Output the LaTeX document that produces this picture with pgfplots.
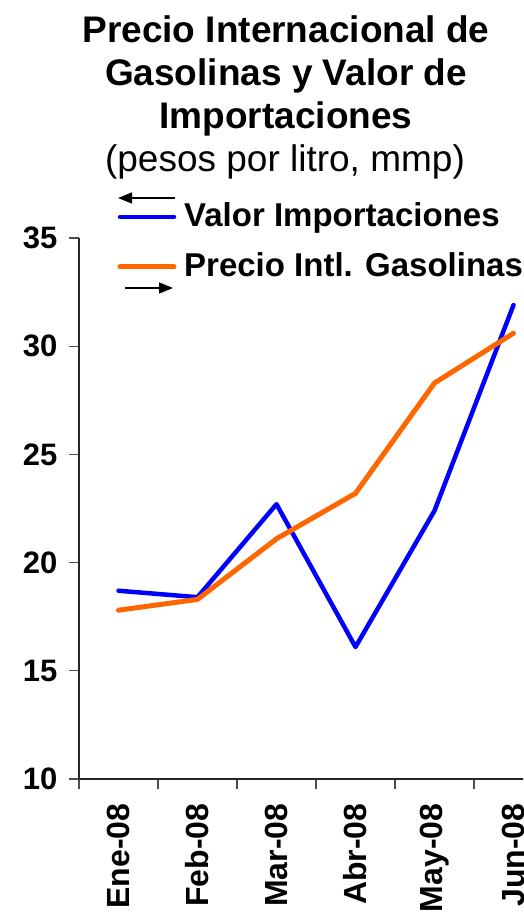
\documentclass[border=0pt]{standalone}
\usepackage{pgfplots}
\pgfplotsset{compat=1.18}
\usepackage{pgfplotstable}
\usepackage{fontspec}
\setmainfont{Liberation Sans}
\usetikzlibrary{arrows.meta}

\definecolor{valorblue}{RGB}{0,0,255}
\definecolor{precioorange}{RGB}{255,102,0}

% mes, valor importaciones, precio intl. gasolinas
\pgfplotstableread{
x valor precio
1 18.7 17.8
2 18.4 18.3
3 22.7 21.1
4 16.1 23.2
5 22.4 28.3
6 31.9 30.6
}\datos

\begin{document}
\begin{tikzpicture}[x=1pt,y=1pt]
\useasboundingbox (0,0) rectangle (523,916);
\clip (0,0) rectangle (523,916);

% titulo
\node[anchor=base, font=\fontsize{37}{40}\selectfont\bfseries] at (286,873) {Precio Internacional de};
\node[anchor=base, font=\fontsize{37}{40}\selectfont\bfseries] at (286,830) {Gasolinas y Valor de};
\node[anchor=base, font=\fontsize{37}{40}\selectfont\bfseries] at (286,787) {Importaciones};
\node[anchor=base, font=\fontsize{37}{40}\selectfont] at (285,744) {(pesos por litro, mmp)};

\begin{axis}[
  at={(79pt,137pt)}, anchor=south west,
  scale only axis, width=474pt, height=541pt,
  xmin=0.5, xmax=6.5, ymin=10, ymax=35,
  axis x line*=bottom, axis y line*=left,
  axis line style={line width=1.2pt, black!85},
  ytick={10,15,...,35},
  xtick={0.5,1.5,...,6.5},
  x tick label as interval,
  xticklabels={Ene-08,Feb-08,Mar-08,Abr-08,May-08,Jun-08},
  % rotated labels: xshift moves them along the rotated text, i.e. down
  x tick label style={rotate=90, anchor=east, xshift=-11pt,
    font=\fontsize{32}{32}\selectfont\bfseries},
  y tick label style={xshift=-8pt, font=\fontsize{31}{31}\selectfont\bfseries},
  /pgf/number format/assume math mode=true,
  tick align=outside, major tick length=10pt,
  tick style={line width=1.2pt, black!70},
  clip=false,
]
\addplot[valorblue, line width=4.5pt, line join=round, line cap=round] table[x=x, y=valor] {\datos};
\addplot[precioorange, line width=5pt, line join=round, line cap=round] table[x=x, y=precio] {\datos};
\end{axis}

% leyenda
\draw[valorblue, line width=4.5pt, line cap=round] (120,699) -- (174,699);
\draw[precioorange, line width=5pt, line cap=round] (120,649) -- (174,649);
\node[anchor=base west, inner sep=0, font=\fontsize{33}{33}\selectfont\bfseries] at (184,689) {Valor Importaciones};
\node[anchor=base west, inner sep=0, font=\fontsize{33}{33}\selectfont\bfseries] at (184,639) {Precio Intl. Gasolinas};
\draw[line width=1.5pt, -{Triangle[length=14pt, width=11pt]}] (175,718) -- (118,718);
\draw[line width=1.5pt, -{Triangle[length=14pt, width=11pt]}] (125,628) -- (173,628);
\end{tikzpicture}
\end{document}
